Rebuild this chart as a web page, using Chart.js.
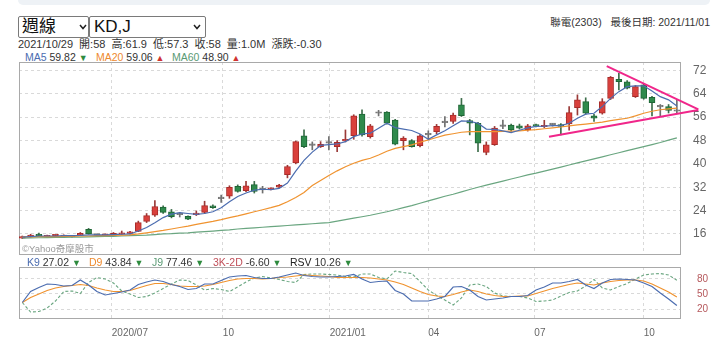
<!DOCTYPE html>
<html><head><meta charset="utf-8">
<script src="https://cdn.jsdelivr.net/npm/chart.js@4.4.0/dist/chart.umd.min.js"></script>
<style>
html,body{margin:0;padding:0;background:#fff;width:720px;height:355px;overflow:hidden;font-family:"Liberation Sans",Arial,"Noto Sans CJK TC",sans-serif;color:#333;}
.t{position:absolute;white-space:nowrap;line-height:14px;height:14px;font-size:10.5px;}
#band{position:absolute;left:18px;top:0;width:692px;height:5px;background:#eef2f6;border-radius:0 0 6px 6px;}
.sel{position:absolute;top:16px;height:22px;border:1px solid #7a7a7a;border-radius:2px;box-sizing:border-box;font-size:17px;line-height:20px;color:#111;font-family:"Liberation Sans","Noto Sans CJK TC",sans-serif;}
.sel svg{position:absolute;top:7px;}
.up{color:#d03232;font-size:9px;}
.dn{color:#2e8b3e;font-size:9px;}
canvas{position:absolute;left:0;}
</style>
</head><body>
<div id="band"></div>
<div class="sel" style="left:18px;width:71px;"><span style="position:absolute;left:3px;top:0;">週線</span><svg width="8" height="6" style="left:60px"><polyline points="1,1 4,4.5 7,1" fill="none" stroke="#222" stroke-width="1.5"/></svg></div>
<div class="sel" style="left:89px;width:117px;"><span style="position:absolute;left:4px;top:0;">KD,J</span><svg width="8" height="6" style="left:103px"><polyline points="1,1 4,4.5 7,1" fill="none" stroke="#222" stroke-width="1.5"/></svg></div>
<div class="t" style="right:10px;top:15px;">聯電(2303)&nbsp;&nbsp;&nbsp;最後日期: 2021/11/01</div>
<div class="t" style="left:18px;top:37px;font-size:11px;word-spacing:3px;">2021/10/29 開:58 高:61.9 低:57.3 收:58 量:1.0M 漲跌:-0.30</div>
<div class="t" style="left:25px;top:50px;"><span style="color:#4c6db0">MA5</span> 59.82 <span class="dn">▼</span></div>
<div class="t" style="left:96px;top:50px;"><span style="color:#ee8a2e">MA20</span> 59.06 <span class="up">▲</span></div>
<div class="t" style="left:172px;top:50px;"><span style="color:#5a9a74">MA60</span> 48.90 <span class="up">▲</span></div>
<canvas id="main" width="720" height="196" style="top:61px;width:720px;height:196px;"></canvas>
<div class="t" style="left:22px;top:242px;font-size:9.5px;color:#9a9a9a;">©Yahoo奇摩股市</div>
<div class="t" style="left:27px;top:255px;"><span style="color:#4c6db0">K9</span> 27.02 <span class="dn">▼</span></div>
<div class="t" style="left:89px;top:255px;"><span style="color:#ee8a2e">D9</span> 43.84 <span class="dn">▼</span></div>
<div class="t" style="left:152px;top:255px;"><span style="color:#5a9a74">J9</span> 77.46 <span class="dn">▼</span></div>
<div class="t" style="left:213px;top:255px;"><span style="color:#c0505a">3K-2D</span> -6.60 <span class="dn">▼</span></div>
<div class="t" style="left:290px;top:255px;"><span style="color:#222">RSV</span> 10.26 <span class="dn">▼</span></div>
<canvas id="kd" width="720" height="89" style="top:266px;width:720px;height:89px;"></canvas>
<script>
// ---- data (weekly candles, 80 weeks up to 2021/10/29) ----
const candleOpen  = [14.6,15.0,15.8,15.0,15.4,15.1,15.0,15.5,17.6,15.6,15.5,15.5,15.9,16.2,16.9,20.3,22.4,25.2,23.6,22.6,22.0,22.6,23.4,25.6,28.1,28.9,32.3,30.8,32.9,31.1,31.3,32.0,36.3,40.3,49.6,46.3,45.9,47.1,45.9,47.8,49.6,57.0,49.3,57.3,57.7,55.0,47.9,48.0,46.2,49.9,51.0,54.1,54.5,60.2,54.8,53.9,43.9,46.6,52.8,53.3,53.0,51.6,53.3,52.7,53.4,53.4,53.7,59.2,61.3,56.4,57.3,62.4,68.9,68.1,63.0,67.0,62.8,59.5,59.6,58.0];
const candleHigh  = [15.3,15.9,16.3,15.6,15.7,15.7,15.5,16.5,17.9,15.8,16.0,16.5,17.0,16.9,20.4,23.0,27.4,25.6,24.4,23.4,22.2,23.9,27.2,26.0,29.3,32.5,32.8,34.0,34.0,32.3,31.8,33.0,39.5,47.8,51.6,47.5,47.6,49.3,48.0,51.6,56.8,58.5,53.5,58.3,57.9,55.2,49.3,48.3,50.0,51.3,53.5,56.2,57.4,62.4,55.2,54.2,47.5,52.8,55.0,53.6,53.6,53.5,53.6,54.9,53.8,53.8,59.6,63.6,62.6,56.9,62.3,69.9,71.0,68.5,66.8,67.4,63.1,60.3,60.3,61.9];
const candleLow   = [14.4,14.9,15.2,14.9,15.3,15.0,14.9,15.4,15.9,15.4,15.4,15.4,15.8,16.0,16.8,19.9,22.0,23.0,21.5,21.8,20.9,22.3,23.0,24.7,26.8,28.2,30.3,30.5,30.0,30.0,31.1,31.8,35.2,40.0,45.5,44.8,45.6,44.8,44.2,47.5,48.4,49.5,48.8,56.4,53.6,46.5,44.8,45.7,45.8,48.5,50.3,52.6,53.8,56.2,49.9,44.2,43.1,46.3,52.0,51.2,51.9,51.2,52.6,52.4,52.9,49.9,51.5,56.7,57.0,54.5,57.0,62.0,65.3,65.6,62.7,62.1,56.4,56.3,57.4,57.3];
const candleClose = [15.1,15.6,15.4,15.4,15.5,15.5,15.3,16.2,16.0,15.6,15.7,16.2,16.4,16.5,19.9,22.3,25.4,23.4,21.9,22.6,21.1,22.9,25.7,25.0,28.1,32.0,30.6,32.5,30.6,31.1,31.6,32.7,39.1,47.6,45.9,46.3,46.7,47.1,47.4,48.4,56.4,49.9,53.0,57.3,53.9,46.7,48.8,45.9,49.6,49.9,52.8,54.1,56.7,56.5,53.9,47.1,46.5,52.2,52.8,51.6,52.2,53.0,52.9,53.1,53.4,52.8,57.5,61.9,57.3,55.6,61.3,69.6,68.1,65.9,66.4,62.4,60.9,59.5,58.3,58.0];
const ma5  = [14.9,15.1,15.3,15.3,15.3,15.4,15.4,15.5,15.7,15.7,15.7,15.8,15.9,16.0,17.0,18.2,19.8,21.6,22.8,23.3,23.0,22.7,23.0,23.6,25.0,27.0,28.8,30.0,31.0,31.3,31.2,31.6,33.4,37.5,41.2,44.0,46.3,46.6,46.8,47.6,49.3,50.2,50.5,52.2,53.9,52.4,51.9,51.4,50.2,48.4,49.9,51.3,53.0,54.7,54.5,53.9,51.9,51.8,51.3,50.7,51.5,52.3,52.8,52.9,53.1,53.1,53.9,55.6,57.0,57.3,59.6,62.4,64.7,66.4,66.7,66.7,64.9,63.0,61.9,59.82];
const ma20 = [15.0,15.0,15.1,15.1,15.1,15.2,15.2,15.3,15.3,15.4,15.4,15.5,15.6,15.7,16.0,16.4,16.8,17.2,17.7,18.2,18.7,19.3,19.8,20.3,20.9,21.6,22.2,22.9,23.6,24.3,25.0,25.8,27.0,28.5,30.2,32.6,34.3,36.0,37.6,39.0,40.2,41.2,41.9,43.0,44.3,45.3,45.9,46.5,47.4,48.2,49.0,49.8,50.3,50.8,51.0,51.0,51.0,51.0,51.1,51.2,51.3,51.5,51.7,52.0,52.3,52.6,53.0,53.3,53.6,53.9,54.3,54.8,55.2,55.6,56.4,57.3,58.0,58.5,58.8,59.06];
const ma60 = [14.6,14.65,14.7,14.75,14.8,14.85,14.9,14.95,15.0,15.1,15.15,15.2,15.3,15.4,15.5,15.6,15.8,16.0,16.1,16.3,16.4,16.6,16.8,17.0,17.2,17.4,17.7,17.9,18.1,18.3,18.5,18.7,18.9,19.1,19.3,19.5,19.7,19.9,20.4,20.9,21.4,21.9,22.4,23.0,23.6,24.3,25.0,25.7,26.5,27.3,28.1,28.9,29.6,30.4,31.2,32.0,32.7,33.4,34.1,34.8,35.5,36.2,36.8,37.5,38.2,38.9,39.6,40.3,41.0,41.7,42.4,43.1,43.8,44.5,45.2,45.9,46.6,47.3,48.1,48.9];
const k9 = [33,55,63,70,69,66,67,78,68,55,48,51,54,58,69,74,78,75,69,65,59,61,70,70,77,84,86,87,83,81,81,84,88,92,87,85,84,84,85,86,89,80,73,75,76,57,50,36,36,36,40,45,64,65,58,45,38,40,42,45,45,47,58,64,72,72,75,79,68,61,72,79,80,79,78,72,65,52,40,27.02];
const d9 = [33,43,50,57,62,65,67,69,67,62,58,55,55,57,62,67,71,71,69,66,65,65,66,69,73,77,80,81,81,80,81,83,84,86,88,87,86,85,83,83,83,83,82,80,78,74,69,62,55,49,46,45,49,54,58,55,50,47,45,45,46,46,51,56,61,65,69,72,70,68,72,75,77,78,78,76,70,62,54,43.84];
const j9 = [33,14,15,22,36,55,56,51,73,83,80,72,56,50,43,45,52,61,70,78,77,68,58,61,59,55,64,74,82,85,82,79,75,73,89,90,90,89,88,85,84,90,90,83,80,96,93,91,75,58,47,38,28,42,68,70,65,52,46,45,45,42,35,36,38,46,53,56,66,79,62,58,65,71,80,88,90,91,88,77.46];
// user-drawn trend lines (week index, price)
const trendUpper = [{x:70.54,y:73.47},{x:81.59,y:58.66}];
const trendLower = [{x:63.57,y:49.28},{x:81.59,y:58.42}];
// axis ticks
const priceTicks = [16,24,32,40,48,56,64,72];
const kdTicks = [20,50,80];
const xTickPos = [10.8,24.2,37.1,49,61.8,75];
const xTickLabels = ['2020/07','10','2021/01','04','07','10'];

const idx = candleOpen.map((_, i) => i);
const RED = '#d9403c', RED_B = '#a82c2a', GRN = '#2f8a4c', GRN_B = '#1f6636', GRY = '#777';
const dir = idx.map(i => candleClose[i] > candleOpen[i] ? 1 : (candleClose[i] < candleOpen[i] ? -1 : 0));
const bodyFill = dir.map(d => d > 0 ? RED : d < 0 ? GRN : GRY);
const bodyLine = dir.map(d => d > 0 ? RED_B : d < 0 ? GRN_B : GRY);
const wickCol = dir.map(d => d > 0 ? '#9a3a38' : d < 0 ? '#3d6e4b' : '#6f6f6f');

const XMIN = -0.4, XMAX = 79.5;
const frame = {id:'frame', beforeDatasetsDraw(c){const {ctx, chartArea:a} = c; ctx.save(); ctx.strokeStyle='#a9a9a9'; ctx.lineWidth=1; ctx.strokeRect(Math.round(a.left)+0.5, Math.round(a.top)+0.5, Math.round(a.right-a.left)-1, Math.round(a.bottom-a.top)-1); ctx.restore();}};
const gridStyle = {color:'#d9d9d9', drawTicks:false, lineWidth:1, offset:false};
function noPad(s){ s.paddingTop = 0; s.paddingBottom = 0; s.paddingLeft = 0; s.paddingRight = 0; }
function xScale(showLabels){
  return {type:'linear', offset:false, min:XMIN, max:XMAX, grid:gridStyle, border:{display:false, dash:[3,3]},
    afterBuildTicks(s){ s.ticks = xTickPos.map(v => ({value:v})); },
    afterFit(s){ s.height = showLabels ? 36 : 0; noPad(s); },
    ticks:{display:showLabels, autoSkip:false, maxRotation:0, minRotation:0, align:'start', padding:8, color:'#666', font:{family:'Liberation Sans', size:10}, callback:(v,i)=>xTickLabels[i]}};
}
function yScale(min, max, tickVals, pad, color, size){
  return {position:'right', min:min, max:max, grid:gridStyle, border:{display:false, dash:[3,3]},
    afterBuildTicks(s){ s.ticks = tickVals.map(v => ({value:v})); },
    afterFit(s){ s.width = 39; noPad(s); },
    ticks:{padding:pad, color:color, font:{size:size}}};
}
Chart.defaults.font.family = 'Liberation Sans';
new Chart(document.getElementById('main'), {
  type:'bar',
  data:{labels: idx, datasets:[
    {type:'line', data: trendUpper, borderColor:'#f0268a', borderWidth:2, pointRadius:0, clip:false, order:-2},
    {type:'line', data: trendLower, borderColor:'#f0268a', borderWidth:2, pointRadius:0, clip:false, order:-2},
    {type:'line', data: ma5, borderColor:'#4c6db0', borderWidth:1.2, pointRadius:0, tension:0, order:0},
    {type:'line', data: ma20, borderColor:'#f0932f', borderWidth:1.2, pointRadius:0, tension:0, order:0},
    {type:'line', data: ma60, borderColor:'#6aa680', borderWidth:1.2, pointRadius:0, tension:0, order:0},
    {type:'bar', data: idx.map(i => [candleOpen[i], candleClose[i]]), backgroundColor: bodyFill, borderColor: bodyLine, borderWidth:1, borderSkipped:false, barThickness:6, minBarLength:1.5, grouped:false, order:2},
    {type:'bar', data: idx.map(i => [candleLow[i], candleHigh[i]]), backgroundColor: wickCol, barThickness:1, grouped:false, order:3}
  ]},
  options:{responsive:false, animation:false, events:[], layout:{padding:{left:19, top:1, bottom:2, right:0}},
    plugins:{legend:{display:false}, tooltip:{enabled:false}},
    scales:{ x: xScale(false), y: yScale(8.8, 74.85, priceTicks, 12, '#666', 12) }},
  plugins:[frame]
});
new Chart(document.getElementById('kd'), {
  type:'line',
  data:{labels: idx, datasets:[
    {data: k9, borderColor:'#4c6db0', borderWidth:1.2, pointRadius:0, tension:0},
    {data: d9, borderColor:'#f0932f', borderWidth:1.2, pointRadius:0, tension:0},
    {data: j9, borderColor:'#6aa680', borderWidth:1.1, borderDash:[3,2], pointRadius:0, tension:0}
  ]},
  options:{responsive:false, animation:false, events:[], layout:{padding:{left:19, top:1, bottom:0, right:0}},
    plugins:{legend:{display:false}, tooltip:{enabled:false}},
    scales:{ x: xScale(true), y: yScale(0, 104, kdTicks, 16, '#b5575b', 10) }},
  plugins:[frame]
});
</script>
</body></html>
